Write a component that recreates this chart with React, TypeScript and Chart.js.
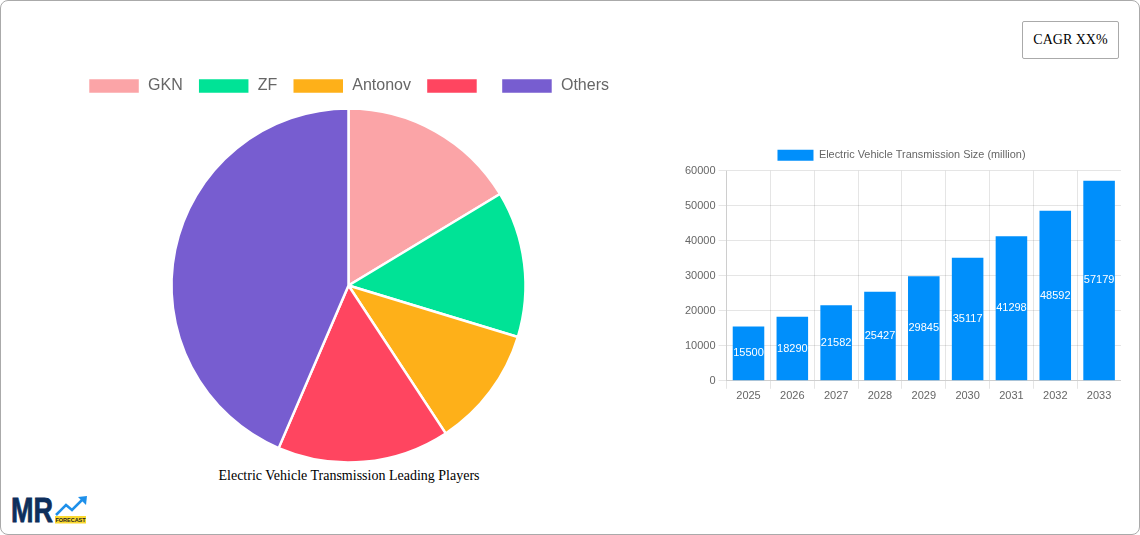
import React, { useEffect, useRef } from "react";
import { Chart, registerables } from "chart.js";

Chart.register(...registerables);

const playerLabels = ["GKN", "ZF", "Antonov", "", "Others"];
const playerShares = [16.35, 13.35, 11.05, 15.71, 43.54];
const playerColors = ["#FBA4A7", "#00E396", "#FEB019", "#FF4560", "#775DD0"];

const years = ["2025", "2026", "2027", "2028", "2029", "2030", "2031", "2032", "2033"];
const sizes = [15500, 18290, 21582, 25427, 29845, 35117, 41298, 48592, 57179];
const seriesName = "Electric Vehicle Transmission Size (million)";
const barColor = "#008FFB";
const sansFont = '"Liberation Sans", Arial, sans-serif';
const serifFont = '"Liberation Serif", "Times New Roman", serif';

const valueLabels = {
  id: "valueLabels",
  afterDatasetsDraw(chart: any) {
    const { ctx } = chart;
    const meta = chart.getDatasetMeta(0);
    ctx.save();
    ctx.fillStyle = "#ffffff";
    ctx.font = `11px ${sansFont}`;
    ctx.textAlign = "center";
    ctx.textBaseline = "middle";
    meta.data.forEach((bar: any, i: number) => {
      const p = bar.getProps(["x", "y", "base"], true);
      ctx.fillText(String(sizes[i]), p.x, (p.y + p.base) / 2);
    });
    ctx.restore();
  },
};

export default function App() {
  const pieRef = useRef<HTMLCanvasElement | null>(null);
  const barRef = useRef<HTMLCanvasElement | null>(null);

  useEffect(() => {
    const pie = new Chart(pieRef.current!, {
      type: "pie",
      data: {
        labels: playerLabels,
        datasets: [{ data: playerShares, backgroundColor: playerColors, borderColor: "#ffffff", borderWidth: 2.5, radius: 177 }],
      },
      options: {
        responsive: false,
        animation: false,
        plugins: {
          tooltip: { enabled: false },
          legend: {
            position: "top",
            labels: { boxWidth: 52, boxHeight: 16, padding: 15, color: "#666666", font: { size: 16, family: sansFont } },
          },
        },
      },
    });
    const bar = new Chart(barRef.current!, {
      type: "bar",
      data: {
        labels: years,
        datasets: [{ label: seriesName, data: sizes, backgroundColor: barColor }],
      },
      options: {
        responsive: false,
        animation: false,
        plugins: {
          tooltip: { enabled: false },
          legend: {
            position: "top",
            labels: { boxWidth: 36, boxHeight: 11, padding: 3.75, color: "#666666", font: { size: 10.9, family: sansFont } },
          },
        },
        scales: {
          x: { ticks: { color: "#666666", padding: 1, font: { size: 11, family: sansFont } } },
          y: {
            min: 0,
            max: 60000,
            ticks: { stepSize: 10000, color: "#666666", font: { size: 11, family: sansFont }, callback: (v: any) => String(v) },
          },
        },
      },
      plugins: [valueLabels],
    });
    return () => {
      pie.destroy();
      bar.destroy();
    };
  }, []);

  return (
    <div style={{ position: "absolute", left: 0, top: 0, width: 1140, height: 535, boxSizing: "border-box", border: "1px solid #aaaaaa", borderRadius: 8, background: "#fff", overflow: "hidden", fontFamily: serifFont }}>
      <canvas ref={pieRef} width={697} height={404} style={{ position: "absolute", left: -1, top: 62, width: 697, height: 404, display: "block" }} />
      <canvas ref={barRef} width={439} height={258} style={{ position: "absolute", left: 681, top: 145, width: 439, height: 258, display: "block" }} />
      <div style={{ position: "absolute", left: 0, width: 696, top: 467, textAlign: "center", fontSize: 14, color: "#000" }}>Electric Vehicle Transmission Leading Players</div>
      <div style={{ position: "absolute", left: 1021, top: 20, width: 97, height: 38, boxSizing: "border-box", border: "1px solid #aaaaaa", borderRadius: 2, textAlign: "center", lineHeight: "36px", fontSize: 14, color: "#000" }}>CAGR XX%</div>
      <svg width={80} height={32} viewBox="0 0 80 32" style={{ position: "absolute", left: 9, top: 494 }}>
        <text x={1} y={27} fontFamily={sansFont} fontWeight={700} fontSize={35} fill="#0E2F5C" stroke="#0E2F5C" strokeWidth={0.8} textLength={42} lengthAdjust="spacingAndGlyphs">MR</text>
        <polyline points="46,20 56,10 62,15 72,5" fill="none" stroke="#1E90EA" strokeWidth={2.5} />
        <polygon points="68,2 77,1 76,10" fill="#1E90EA" />
        <rect x={45} y={21} width={31} height={7.5} fill="#FBD92F" />
        <text x={60.5} y={27} textAnchor="middle" fontFamily={sansFont} fontWeight={700} fontSize={5.5} fill="#222">FORECAST</text>
      </svg>
    </div>
  );
}
